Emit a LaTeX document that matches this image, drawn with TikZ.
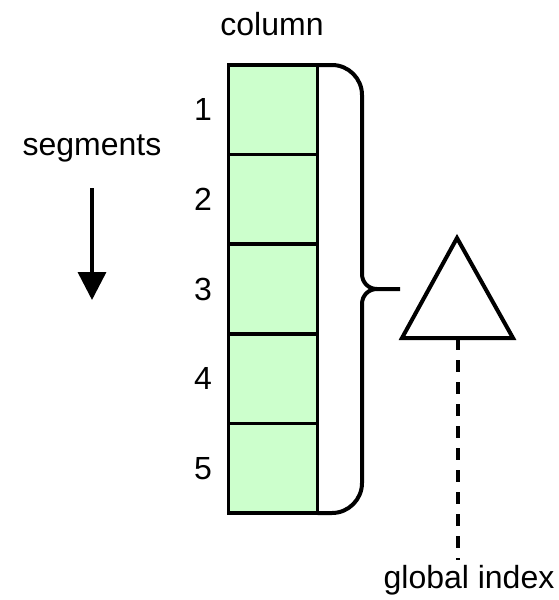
\documentclass[tikz,border=0pt]{standalone}
\usepackage{fontspec}
\setmainfont{Liberation Sans}
\usetikzlibrary{arrows.meta}
\definecolor{cellgreen}{RGB}{204,255,204}
\begin{document}
\begin{tikzpicture}[x=1pt,y=-1pt,
  cell/.style={draw=black,line width=3.5pt,fill=cellgreen,minimum width=89pt,minimum height=89.6pt,inner sep=0pt,outer sep=0pt},
  lbl/.style={font=\fontsize{32}{36}\selectfont,inner sep=0pt},
  thick line/.style={line width=4pt}]
\useasboundingbox (0,0) rectangle (559,600);
\foreach \i in {1,...,5}{
  \node[cell] (c\i) at (273,{65+89.6*(\i-0.5)}) {};
  \node[lbl] (n\i) at (203,{65+89.6*(\i-0.5)}) {\i};
}
\node[lbl] (col) at (272,24) {column};
\node[lbl] (seg) at (92,148) {segments};
\coordinate (a1) at (92,188);
\coordinate (a2) at (92,300);
\draw[line width=3.5pt,-{Triangle[length=28pt,width=28pt]}] (a1) -- (a2);
% brace
\draw[thick line] (c1.north east) -- (332,65) .. controls (348.5,65) and (362,78.5) .. (362,95) -- (362,274) .. controls (362,282) and (368,289) .. (377,289) -- (400,289);
\draw[thick line] (c5.south east) -- (332,513) .. controls (348.5,513) and (362,499.5) .. (362,483) -- (362,304) .. controls (362,296) and (368,289) .. (377,289);
% triangle
\coordinate (tapex) at (457,238);
\coordinate (tl) at (402,338);
\coordinate (tr) at (513,338);
\coordinate (tbase) at (458,338);
\draw[line width=4pt,line join=miter] (tapex) -- (tr) -- (tl) -- cycle;
\node[lbl] (gi) at (469,580) {global index};
\draw[thick line,dash pattern=on 12pt off 10pt] (tbase) -- (tbase |- 0,560);
\end{tikzpicture}
\end{document}
